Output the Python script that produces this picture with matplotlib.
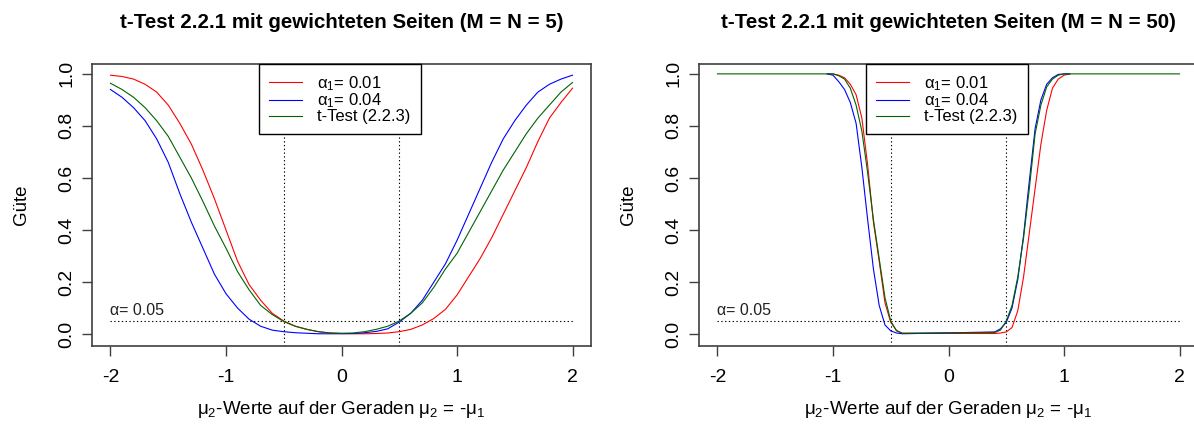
import matplotlib
matplotlib.use("Agg")
import matplotlib.pyplot as plt
import numpy as np

plt.rcParams["font.family"] = ["Liberation Sans", "DejaVu Sans"]
plt.rcParams["mathtext.fontset"] = "custom"
plt.rcParams["mathtext.rm"] = "Liberation Sans"
plt.rcParams["mathtext.it"] = "Liberation Sans"
plt.rcParams["mathtext.default"] = "regular"

# ---- power curves, M = N = 5 ----
x_small = [-2.0, -1.9, -1.8, -1.7, -1.6, -1.5, -1.4, -1.3, -1.2, -1.1, -1.0,
           -0.9, -0.8, -0.7, -0.6, -0.5, -0.4, -0.3, -0.2, -0.1, 0.0,
           0.1, 0.2, 0.3, 0.4, 0.5, 0.6, 0.7, 0.8, 0.9, 1.0,
           1.1, 1.2, 1.3, 1.4, 1.5, 1.6, 1.7, 1.8, 1.9, 2.0]
red_small = [0.995, 0.99, 0.98, 0.96, 0.93, 0.88, 0.81, 0.73, 0.63, 0.52, 0.40,
             0.28, 0.19, 0.13, 0.08, 0.05, 0.03, 0.018, 0.009, 0.004, 0.002,
             0.001, 0.001, 0.002, 0.004, 0.009, 0.018, 0.035, 0.06, 0.095, 0.15,
             0.22, 0.29, 0.37, 0.46, 0.55, 0.64, 0.74, 0.83, 0.89, 0.945]
blue_small = [0.94, 0.91, 0.87, 0.82, 0.75, 0.66, 0.54, 0.43, 0.33, 0.23, 0.155,
              0.10, 0.057, 0.03, 0.015, 0.009, 0.005, 0.003, 0.001, 0.001, 0.001,
              0.002, 0.005, 0.01, 0.02, 0.046, 0.08, 0.13, 0.20, 0.27, 0.36,
              0.46, 0.56, 0.66, 0.75, 0.82, 0.88, 0.93, 0.96, 0.98, 0.995]
green_small = [0.964, 0.94, 0.91, 0.87, 0.82, 0.76, 0.68, 0.60, 0.51, 0.415, 0.33,
               0.24, 0.17, 0.11, 0.075, 0.048, 0.03, 0.018, 0.009, 0.004, 0.003,
               0.004, 0.009, 0.018, 0.03, 0.05, 0.08, 0.12, 0.18, 0.25, 0.31,
               0.39, 0.47, 0.55, 0.63, 0.70, 0.77, 0.83, 0.88, 0.93, 0.967]

# ---- power curves, M = N = 50 ----
# the weighted tests were only evaluated on the transition region
x_large_w = [-1.05, -1.0, -0.95, -0.9, -0.85, -0.8, -0.75, -0.7, -0.65, -0.6, -0.55,
             -0.5, -0.45, -0.4, 0.4, 0.45, 0.5, 0.55, 0.6, 0.65, 0.7, 0.75, 0.8,
             0.85, 0.9, 0.95, 1.0, 1.05]
red_large = [1.0, 1.0, 0.995, 0.985, 0.96, 0.92, 0.83, 0.65, 0.43, 0.28, 0.12,
             0.045, 0.014, 0.003, 0.002, 0.004, 0.008, 0.025, 0.09, 0.22, 0.39, 0.56, 0.73,
             0.86, 0.945, 0.98, 0.995, 1.0]
blue_large = [1.0, 0.995, 0.97, 0.94, 0.89, 0.81, 0.64, 0.44, 0.25, 0.11, 0.035,
              0.012, 0.004, 0.001, 0.008, 0.02, 0.045, 0.10, 0.21, 0.38, 0.59, 0.79, 0.90,
              0.96, 0.985, 0.998, 1.0, 1.0]
x_large_t = [-2.0, -1.0, -0.95, -0.9, -0.85, -0.8, -0.75, -0.7, -0.65, -0.6, -0.55,
             -0.5, -0.45, -0.4, 0.4, 0.45, 0.5, 0.55, 0.6, 0.65, 0.7, 0.75, 0.8,
             0.85, 0.9, 0.95, 1.0, 1.05, 2.0]
green_large = [1.0, 1.0, 0.993, 0.98, 0.945, 0.88, 0.78, 0.62, 0.44, 0.29, 0.14,
               0.05, 0.012, 0.003, 0.006, 0.015, 0.05, 0.11, 0.22, 0.37, 0.56, 0.77, 0.88,
               0.95, 0.98, 0.995, 1.0, 1.0, 1.0]

series_labels = [r"α$_1$= 0.01", r"α$_1$= 0.04", "t-Test (2.2.3)"]
series_colors = ["#FF0000", "#0000FF", "#006400"]
titles = ["t-Test 2.2.1 mit gewichteten Seiten (M = N = 5)",
          "t-Test 2.2.1 mit gewichteten Seiten (M = N = 50)"]
alpha_level = 0.05
bounds = [-0.5, 0.5]
x_ticks = [-2, -1, 0, 1, 2]
y_ticks = [0.0, 0.2, 0.4, 0.6, 0.8, 1.0]

W, H = 1194, 428
fig = plt.figure(figsize=(W / 100, H / 100), dpi=100)


def px_axes(left, top, right, bottom):
    return fig.add_axes([left / W, 1 - bottom / H, (right - left) / W, (bottom - top) / H])


panels = [
    (px_axes(92, 64, 591, 346),
     [(x_small, red_small), (x_small, blue_small), (x_small, green_small)], titles[0]),
    (px_axes(699, 64, 1198, 346),
     [(x_large_w, red_large), (x_large_w, blue_large), (x_large_t, green_large)], titles[1]),
]

edge = "#404040"
dots = (0, (1.2, 2.2))
for ax, curves, title in panels:
    for (xs, yv), col, lab in zip(curves, series_colors, series_labels):
        ax.plot(xs, yv, color=col, lw=0.8, label=lab, zorder=3)
    for b in bounds:
        ax.axvline(b, color="black", ls=dots, lw=0.8, zorder=1)
    ax.plot([-2, 2], [alpha_level, alpha_level], color="black", ls=dots, lw=0.8, zorder=1)
    ax.text(-2, 0.09, "α= " + f"{alpha_level:.2f}", ha="left", va="center",
            fontsize=11.5, color="#222222")
    ax.set_xlim(-2.16, 2.16)
    ax.set_ylim(-0.046, 1.038)
    ax.set_xticks(x_ticks)
    ax.set_xticklabels([str(t) for t in x_ticks])
    ax.set_yticks(y_ticks)
    ax.set_yticklabels([f"{t:.1f}" for t in y_ticks], rotation=90, va="center")
    ax.tick_params(axis="both", direction="out", length=7.2, width=1.0,
                   color=edge, labelsize=14, labelcolor="black")
    ax.tick_params(axis="x", pad=9)
    ax.tick_params(axis="y", pad=5)
    for s in ax.spines.values():
        s.set_color(edge)
        s.set_linewidth(1.2)
    leg = ax.legend(loc="upper center", bbox_to_anchor=(0.497, 1.0), borderaxespad=0,
                    fontsize=12, frameon=True, fancybox=False, framealpha=1,
                    edgecolor="black", handlelength=1.95, handletextpad=0.95,
                    labelspacing=-0.06, borderpad=0.6)
    leg.get_frame().set_linewidth(1.0)
    leg.set_zorder(5)
    pos = ax.get_position()
    cx = pos.x0 + pos.width / 2
    fig.text(cx, 1 - 22 / H, title, ha="center", va="center",
             fontsize=14.8, fontweight="bold")
    fig.text(cx, 1 - 410 / H, r"μ$_2$-Werte auf der Geraden μ$_2$ = -μ$_1$",
             ha="center", va="center", fontsize=13.5)
    fig.text(pos.x0 - 70 / W, pos.y0 + pos.height / 2, "Güte", rotation=90,
             ha="center", va="center", fontsize=13.5)

fig.savefig("out.png", dpi=100)
